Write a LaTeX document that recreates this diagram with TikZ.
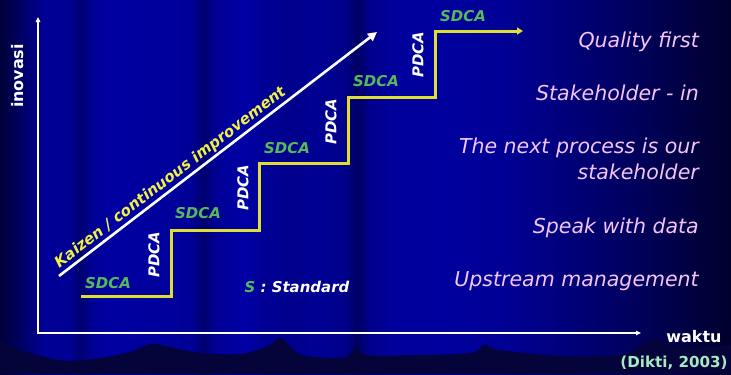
\documentclass[tikz,border=0pt]{standalone}
\usepackage{fontspec}
\setmainfont{DejaVu Sans}
\usetikzlibrary{arrows.meta}

\definecolor{stairyellow}{RGB}{222,222,52}
\definecolor{kaizenyellow}{RGB}{240,240,70}
\definecolor{sdcagreen}{RGB}{84,186,92}
\definecolor{pinktxt}{RGB}{246,196,246}
\definecolor{mint}{RGB}{165,234,195}
\definecolor{deepnavy}{RGB}{4,4,58}

\begin{document}
\begin{tikzpicture}[x=1bp,y=-1bp,
  axisline/.style={draw=white, line width=1.8bp,
    {Triangle[length=5bp,width=4.5bp]}-{Triangle[length=5bp,width=4.5bp]}},
  kaizenline/.style={draw=white, line width=2.6bp,
    -{Triangle[length=9bp,width=9bp]}},
  stairline/.style={draw=stairyellow, line width=3bp, line join=miter,
    -{Triangle[length=6bp,width=7bp]}},
  labelfont/.style={font=\fontsize{15}{18}\selectfont\bfseries\itshape, inner sep=0pt},
  sdcalabel/.style={labelfont, text=sdcagreen},
  pdcalabel/.style={labelfont, text=white, rotate=90},
  pinkline/.style={text=pinktxt, font=\fontsize{20.6}{26.5}\selectfont\itshape,
    anchor=base east, inner sep=0pt, align=right},
  axislabel/.style={text=white, font=\fontsize{16}{19}\selectfont\bfseries, inner sep=0pt}
]
\useasboundingbox (0,0) rectangle (731,374);

% curtain backdrop: vertical folds of darker and lighter blue
\foreach \xa/\ba/\xb/\bb in {
   0/55/15/90, 15/90/45/150, 45/150/70/148, 70/148/80/112, 80/112/92/150,
   92/150/110/162, 110/162/190/152, 190/152/204/112, 204/112/216/150,
   216/150/245/166, 245/166/262/150, 262/150/290/140, 290/140/320/148,
   320/148/345/138, 345/138/357/100, 357/100/370/140, 370/140/390/155,
   390/155/440/158, 440/158/500/150, 500/150/560/125, 560/125/640/90,
   640/90/700/60, 700/60/731/45}
{
  \shade[left color={rgb,255:red,0;green,0;blue,\ba},
         right color={rgb,255:red,0;green,0;blue,\bb}]
    (\xa-0.5,0) rectangle (\xb+0.5,374);
}

% dark rolling ground along the bottom
\fill[deepnavy] plot[smooth, tension=0.6] coordinates {
  (0,341) (20,350) (50,358) (70,361) (100,358) (130,352) (150,344)
  (170,347) (200,353) (240,354) (268,346) (280,338) (290,346) (305,356)
  (345,357) (357,346) (366,355) (420,355) (470,353) (485,345) (500,350)
  (560,356) (620,355) (642,345) (655,338) (668,345) (700,347) (731,345)}
  -- (731,374) -- (0,374) -- cycle;

% axes
\coordinate (ytop) at (38,17);
\coordinate (origin) at (38,333);
\coordinate (xend) at (641,333);
\draw[axisline] (ytop) -- (origin) -- (xend);
\node[axislabel, rotate=90] (inovasi) at (18,76) {inovasi};
\node[axislabel] (waktu) at (694,337) {waktu};
\node[text=mint, font=\fontsize{15.2}{18}\selectfont\bfseries, inner sep=0pt]
  (dikti) at (674,363) {(Dikti, 2003)};

% kaizen arrow
\coordinate (kstart) at (59,276);
\coordinate (kend) at (377,32);
\draw[kaizenline] (kstart) -- node[pos=0.37, sloped, above=1.5bp,
  text=kaizenyellow, font=\fontsize{15.2}{18}\selectfont\bfseries\itshape,
  inner sep=0pt] (kaizen) {Kaizen / continuous improvement} (kend);

% staircase of standardisation and improvement
\coordinate (s0) at (81,296);
\coordinate (s1) at (171,296);
\coordinate (s2) at (171,230);
\coordinate (s3) at (259,230);
\coordinate (s4) at (259,163);
\coordinate (s5) at (348,163);
\coordinate (s6) at (348,97);
\coordinate (s7) at (435,97);
\coordinate (s8) at (435,31);
\coordinate (s9) at (523,31);
\draw[stairline] (s0) -- (s1) -- (s2) -- (s3) -- (s4) -- (s5) -- (s6)
  -- (s7) -- (s8) -- (s9);

\node[sdcalabel] (sdca1) at (108,283) {SDCA};
\node[sdcalabel] (sdca2) at (198,213) {SDCA};
\node[sdcalabel] (sdca3) at (287,148) {SDCA};
\node[sdcalabel] (sdca4) at (376,81) {SDCA};
\node[sdcalabel] (sdca5) at (463,16) {SDCA};

\node[pdcalabel] (pdca1) at (154,255) {PDCA};
\node[pdcalabel] (pdca2) at (243,188) {PDCA};
\node[pdcalabel] (pdca3) at (331,122) {PDCA};
\node[pdcalabel] (pdca4) at (418,55) {PDCA};

\node[labelfont, text=white] (standard) at (297,287)
  {\textcolor{sdcagreen}{S} : Standard};

% principles, right-aligned
\node[pinkline] (quality) at (699,47.5) {Quality first};
\node[pinkline] (stake) at (699,100) {Stakeholder - in};
\node[pinkline] (next) at (699,179.5) {The next process is our\\stakeholder};
\node[pinkline] (speak) at (699,233) {Speak with data};
\node[pinkline] (upstream) at (699,286) {Upstream management};

\end{tikzpicture}
\end{document}
